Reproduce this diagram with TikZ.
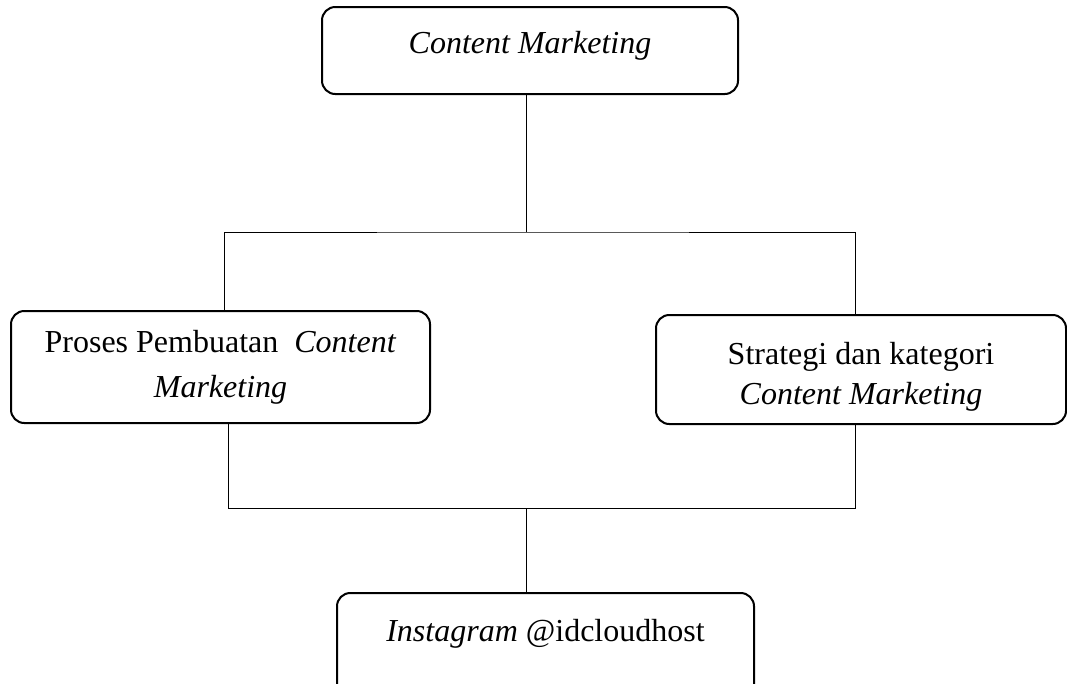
\documentclass[tikz,border=0pt]{standalone}
\usepackage{fontspec}
\setmainfont{Liberation Serif}
\begin{document}
\begin{tikzpicture}[x=0.75pt,y=-0.75pt,
  box/.style={draw, line width=1.5pt, rounded corners=10pt, align=center,
    font=\fontsize{24}{32}\selectfont, inner sep=0pt},
  conn/.style={draw, line width=0.75pt}]
\useasboundingbox (0,0) rectangle (1067,683);
\node[box, minimum width=416*0.75pt, minimum height=87*0.75pt, text depth=12pt] (top) at (530,50.5) {\textit{Content Marketing}};
\node[box, minimum width=419*0.75pt, minimum height=112*0.75pt, font=\fontsize{24}{34}\selectfont] (left) at (220.5,367) {Proses Pembuatan\ \ \textit{Content}\\\textit{Marketing}};
\node[box, minimum width=410*0.75pt, minimum height=109*0.75pt, font=\fontsize{24}{30}\selectfont] (right) at (861,369.5) {\rule{0pt}{27pt}Strategi dan kategori\\\textit{Content Marketing}};
\node[box, minimum width=417*0.75pt, minimum height=113*0.75pt, text depth=29pt] (bottom) at (545.5,649.5) {\textit{Instagram} @idcloudhost};
\coordinate (j1) at (526,232);
\coordinate (j2) at (526,508);
\coordinate (lx1) at (224,0);
\coordinate (lx2) at (228,0);
\coordinate (rx) at (855,0);
\draw[conn] (top.south -| j1) -- (j1);
\draw[conn] (lx1 |- left.north) |- (j1) -| (rx |- right.north);
\draw[conn] (lx2 |- left.south) |- (j2) -| (rx |- right.south);
\draw[conn] (j2) -- (j2 |- bottom.north);
\end{tikzpicture}
\end{document}
